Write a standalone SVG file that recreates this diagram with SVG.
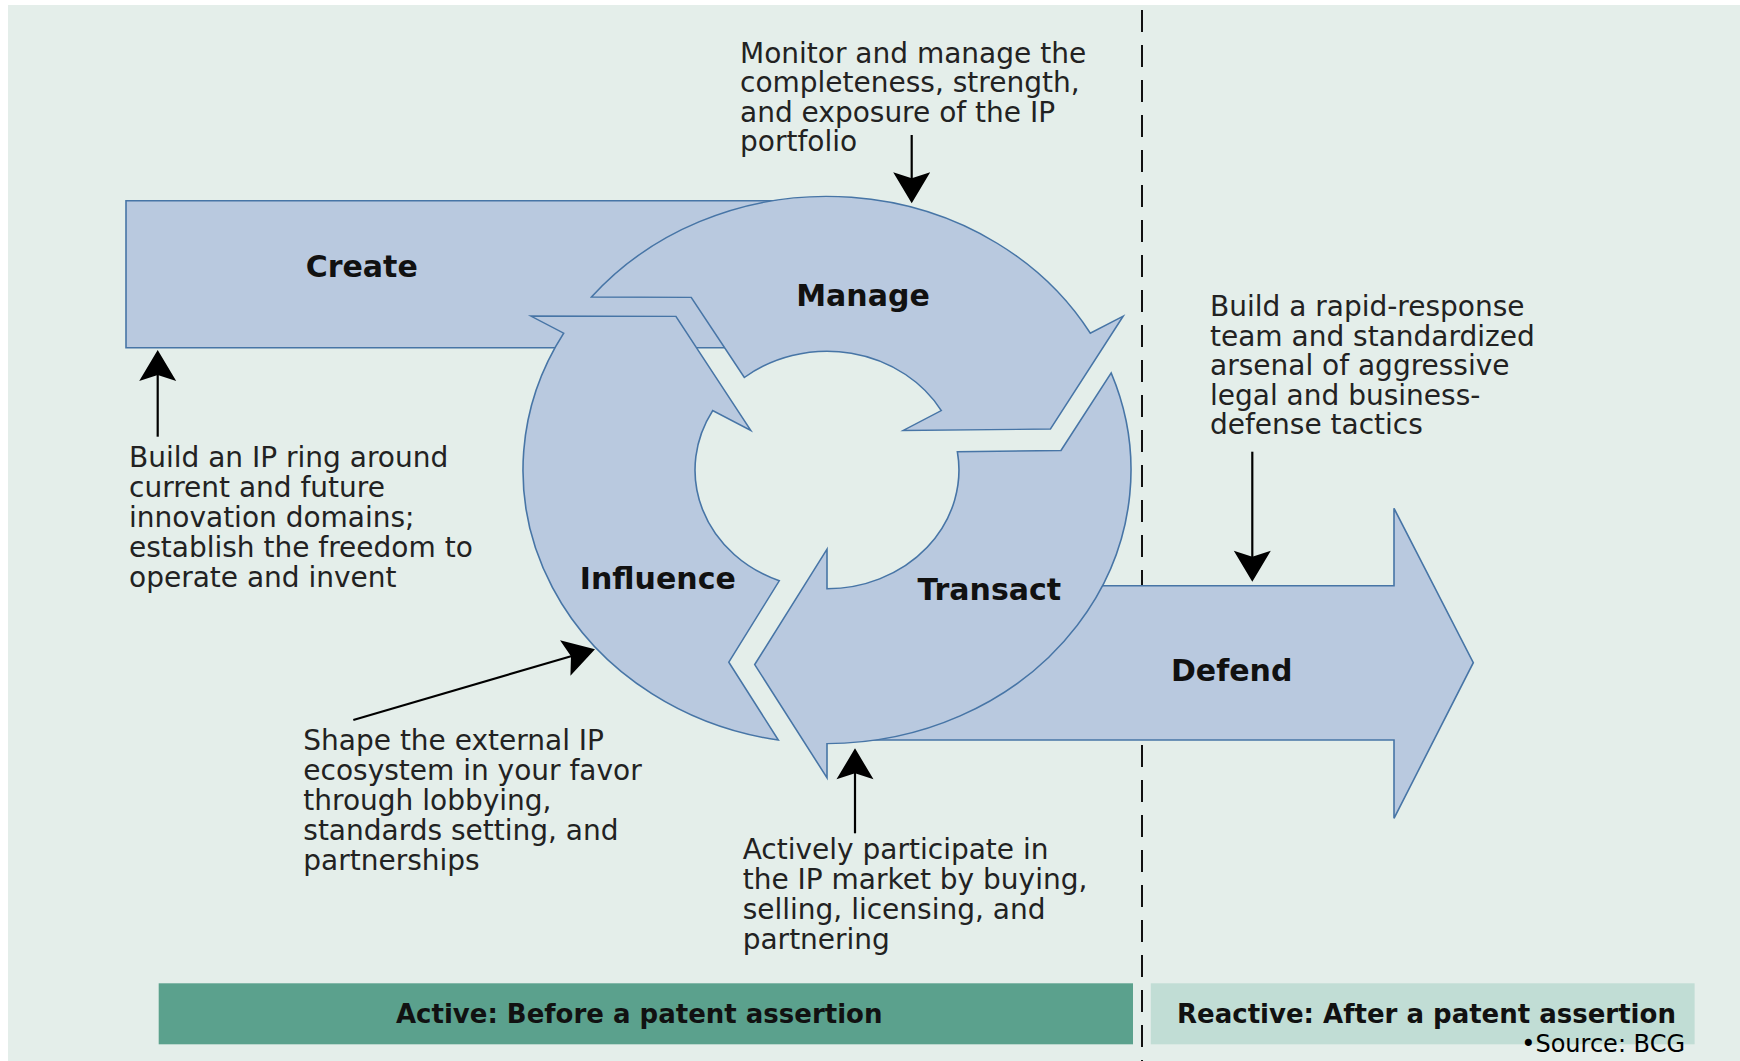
<svg xmlns="http://www.w3.org/2000/svg" width="1740" height="1061" viewBox="0 0 1740 1061">
<style>
.shape{fill:#b9c9df;stroke:#4775a6;stroke-width:1.6;vector-effect:non-scaling-stroke;stroke-linejoin:miter}
.lbl{font-family:"DejaVu Sans",sans-serif;font-weight:bold;font-size:30px;fill:#111;text-anchor:middle}
.note{font-family:"DejaVu Sans",sans-serif;font-size:28px;fill:#222}
.bar{font-family:"DejaVu Sans",sans-serif;font-weight:bold;font-size:26px;fill:#111;text-anchor:middle}
.src{font-family:"DejaVu Sans",sans-serif;font-size:24px;fill:#000;text-anchor:end}
.conn{stroke:#000;stroke-width:2.2;fill:none;marker-end:url(#ah)}
</style>
<defs>
<marker id="ah" markerUnits="userSpaceOnUse" markerWidth="44" markerHeight="44" viewBox="-34 -22 36 44" refX="-8" refY="0" orient="auto">
<path d="M0,0 L-31,-18.5 L-25,0 L-31,18.5 Z" fill="#000"/>
</marker>
<path id="cyc" d="M-107.9,-284.2 A304,304 0 0 1 304,0 L342,0 L216.2,72.3 L88,0 L132,0 A132,132 0 0 0 -20.2,-130.4 L-21.7,-234 Z"/>
</defs>
<rect x="0" y="0" width="1740" height="1061" fill="#ffffff"/>
<rect x="8" y="5" width="1732" height="1056" fill="#e4eeea"/>
<line x1="1142" y1="10" x2="1142" y2="1061" stroke="#111" stroke-width="2" stroke-dasharray="22 13"/>
<g id="node-create">
<rect class="shape" x="126" y="200.7" width="680" height="147"/>
</g>
<g id="node-defend">
<path class="shape" d="M872,585.7 L1394,585.7 L1394,508.3 L1473.3,662.7 L1394,818.3 L1394,740 L872,740 Z"/>
</g>
<g id="node-manage">
<use href="#cyc" class="shape" transform="translate(827,470) scale(1,0.9) rotate(-30)"/>
</g>
<g id="node-transact">
<use href="#cyc" class="shape" transform="translate(827,470) scale(1,0.9) rotate(90)"/>
</g>
<g id="node-influence">
<use href="#cyc" class="shape" transform="translate(827,470) scale(1,0.9) rotate(210)"/>
</g>
<g id="labels">
<text class="lbl" x="361.7" y="276.7">Create</text>
<text class="lbl" x="863" y="305.5">Manage</text>
<text class="lbl" x="657.8" y="588.5">Influence</text>
<text class="lbl" x="989.3" y="600">Transact</text>
<text class="lbl" x="1231.7" y="681">Defend</text>
</g>
<g id="connectors">
<line class="conn" x1="911.7" y1="135" x2="911.7" y2="195.3"/>
<line class="conn" x1="157.7" y1="436.7" x2="157.7" y2="358"/>
<line class="conn" x1="1252.3" y1="451.7" x2="1252.3" y2="573.7"/>
<line class="conn" x1="353.3" y1="720" x2="587.3" y2="651.5"/>
<line class="conn" x1="855" y1="833.3" x2="855" y2="756.3"/>
</g>
<g id="note-monitor">
<text class="note" x="740" y="63"><tspan x="740">Monitor and manage the</tspan><tspan x="740" dy="29.3">completeness, strength,</tspan><tspan x="740" dy="29.3">and exposure of the IP</tspan><tspan x="740" dy="29.4">portfolio</tspan></text>
</g>
<g id="note-create">
<text class="note" x="129" y="466.7"><tspan x="129">Build an IP ring around</tspan><tspan x="129" dy="30">current and future</tspan><tspan x="129" dy="30">innovation domains;</tspan><tspan x="129" dy="30">establish the freedom to</tspan><tspan x="129" dy="30">operate and invent</tspan></text>
</g>
<g id="note-defend">
<text class="note" x="1210" y="316"><tspan x="1210">Build a rapid-response</tspan><tspan x="1210" dy="29.5">team and standardized</tspan><tspan x="1210" dy="29.5">arsenal of aggressive</tspan><tspan x="1210" dy="29.5">legal and business-</tspan><tspan x="1210" dy="29.5">defense tactics</tspan></text>
</g>
<g id="note-influence">
<text class="note" x="303.3" y="750"><tspan x="303.3">Shape the external IP</tspan><tspan x="303.3" dy="30">ecosystem in your favor</tspan><tspan x="303.3" dy="30">through lobbying,</tspan><tspan x="303.3" dy="30">standards setting, and</tspan><tspan x="303.3" dy="30">partnerships</tspan></text>
</g>
<g id="note-transact">
<text class="note" x="742.7" y="859.3"><tspan x="742.7">Actively participate in</tspan><tspan x="742.7" dy="30">the IP market by buying,</tspan><tspan x="742.7" dy="30">selling, licensing, and</tspan><tspan x="742.7" dy="30">partnering</tspan></text>
</g>
<g id="bar-active">
<rect x="158.7" y="983.3" width="974.3" height="61" fill="#5ba18d"/>
<text class="bar" x="639.2" y="1023">Active: Before a patent assertion</text>
</g>
<g id="bar-reactive">
<rect x="1150.8" y="983.3" width="543.8" height="61" fill="#c1ddd5"/>
<text class="bar" x="1426.5" y="1023">Reactive: After a patent assertion</text>
</g>
<text class="src" x="1685" y="1052">•Source: BCG</text>
</svg>
